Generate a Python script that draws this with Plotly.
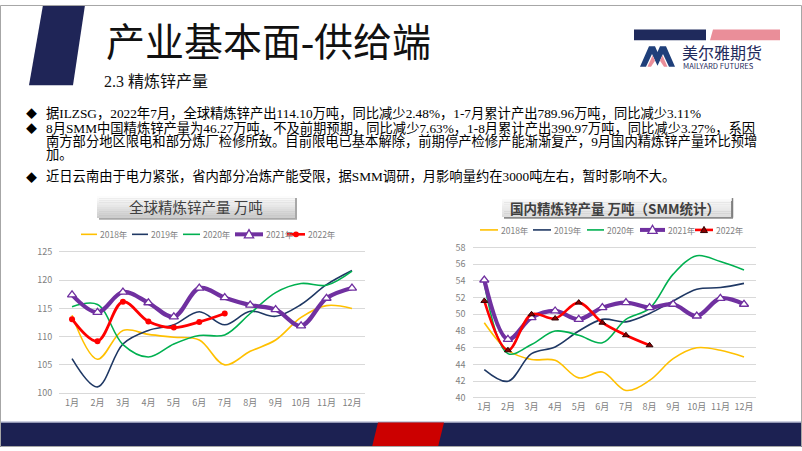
import plotly.graph_objects as go

W, H = 802, 451

# ---------------- data ----------------
months = ["1月", "2月", "3月", "4月", "5月", "6月", "7月", "8月", "9月", "10月", "11月", "12月"]
years = ["2018年", "2019年", "2020年", "2021年", "2022年"]

# 全球精炼锌产量 万吨
global_2018 = [113.8, 106.0, 111.1, 110.4, 109.9, 109.4, 105.0, 107.4, 109.4, 113.4, 115.5, 115.0]
global_2019 = [106.1, 101.1, 108.7, 111.1, 112.1, 114.4, 112.1, 114.5, 113.6, 115.7, 119.2, 121.7]
global_2020 = [115.3, 115.7, 108.6, 106.4, 108.7, 110.2, 110.3, 114.1, 117.8, 119.4, 119.1, 121.6]
global_2021 = [117.4, 114.3, 117.9, 116.0, 113.5, 118.6, 116.9, 115.6, 114.8, 111.9, 116.8, 118.6]
global_2022 = [113.1, 109.2, 116.2, 112.7, 111.6, 112.6, 114.1]

# 国内精炼锌产量 万吨（SMM统计）
domestic_2018 = [49.0, 45.7, 44.6, 44.5, 42.4, 43.1, 40.9, 42.1, 44.7, 46.0, 45.7, 44.9]
domestic_2019 = [43.4, 42.0, 45.3, 46.1, 48.0, 49.4, 49.1, 50.1, 51.6, 53.0, 53.2, 53.7]
domestic_2020 = [53.7, 45.3, 46.4, 48.0, 47.5, 46.6, 49.4, 50.7, 54.8, 57.0, 56.3, 55.3]
domestic_2021 = [54.1, 47.0, 49.6, 50.4, 49.4, 50.8, 51.4, 50.8, 51.2, 49.8, 51.9, 51.2]
domestic_2022 = [51.6, 45.7, 50.0, 49.5, 51.4, 49.0, 47.5, 46.3]

bullet_lines = [
    "据ILZSG，2022年7月，全球精炼锌产出114.10万吨，同比减少2.48%，1-7月累计产出789.96万吨，同比减少3.11%",
    "8月SMM中国精炼锌产量为46.27万吨，不及前期预期，同比减少7.63%，1-8月累计产出390.97万吨，同比减少3.27%，系因",
    "南方部分地区限电和部分炼厂检修所致。目前限电已基本解除，前期停产检修产能渐渐复产，9月国内精炼锌产量环比预增",
    "加。",
    "近日云南由于电力紧张，省内部分冶炼产能受限，据SMM调研，月影响量约在3000吨左右，暂时影响不大。",
]

# ---------------- styles ----------------
FONT = "Noto Sans CJK SC"
SERIF = "Liberation Serif, Noto Sans CJK SC"
C18, C19, C20, C21, C22 = "#FFC000", "#1F3864", "#00B050", "#7030A0", "#FF0000"
NAVY = "#1C2152"


def px(x):
    return x / W


def py(y):
    return 1 - y / H


def path(points):
    return "M " + " L ".join(f"{px(x):.5f},{py(y):.5f}" for x, y in points) + " Z"


fig = go.Figure()

styles = {
    "2018年": dict(line=dict(color=C18, width=1.6, shape="spline"), mode="lines"),
    "2019年": dict(line=dict(color=C19, width=1.6, shape="spline"), mode="lines"),
    "2020年": dict(line=dict(color=C20, width=1.6, shape="spline"), mode="lines"),
    "2021年": dict(line=dict(color=C21, width=4.2, shape="spline"), mode="lines+markers",
                  marker=dict(symbol="triangle-up", size=8, color="white",
                              line=dict(color=C21, width=1.3))),
}

left_series = [global_2018, global_2019, global_2020, global_2021, global_2022]
right_series = [domestic_2018, domestic_2019, domestic_2020, domestic_2021, domestic_2022]

for name, vals in zip(years, left_series):
    st = styles.get(name, dict(line=dict(color=C22, width=2.8, shape="spline"), mode="lines+markers",
                               marker=dict(symbol="circle", size=6, color=C22)))
    fig.add_trace(go.Scatter(x=months[:len(vals)], y=vals, name=name, xaxis="x", yaxis="y",
                             showlegend=False, **st))

for name, vals in zip(years, right_series):
    st = styles.get(name, dict(line=dict(color=C22, width=2.6, shape="spline"), mode="lines+markers",
                               marker=dict(symbol="triangle-up", size=6, color="#8B0000",
                                           line=dict(color="#300000", width=1))))
    fig.add_trace(go.Scatter(x=months[:len(vals)], y=vals, name=name, xaxis="x2", yaxis="y2",
                             showlegend=False, **st))

tickfont = dict(family=FONT, size=9, color="#7F7F7F")

fig.update_layout(
    width=W, height=H, autosize=False,
    margin=dict(l=0, r=0, t=0, b=0),
    paper_bgcolor="white", plot_bgcolor="white",
    showlegend=False,
    xaxis=dict(domain=[px(59.3), px(364.7)], type="category", range=[-0.5, 11.5],
               showgrid=False, zeroline=False, showline=False, ticks="",
               tickfont=tickfont, anchor="y", fixedrange=True),
    yaxis=dict(domain=[py(398.9), py(249.1)], range=[99.5, 125.5], dtick=5, tick0=100,
               showgrid=True, gridcolor="#D9D9D9", gridwidth=1, zeroline=False,
               showline=False, ticks="", tickfont=tickfont, anchor="x",
               ticklabelstandoff=6, fixedrange=True),
    xaxis2=dict(domain=[px(472.5), px(755.8)], type="category", range=[-0.5, 11.5],
                showgrid=False, zeroline=False, showline=False, ticks="",
                tickfont=tickfont, anchor="y2", fixedrange=True),
    yaxis2=dict(domain=[py(402.7), py(245.6)], range=[39.8, 58.2], dtick=2, tick0=40,
                showgrid=True, gridcolor="#D9D9D9", gridwidth=1, zeroline=False,
                showline=False, ticks="", tickfont=tickfont, anchor="x2",
                ticklabelstandoff=6, fixedrange=True),
)

shapes = []
annotations = []

# slide decorations
shapes.append(dict(type="path", xref="paper", yref="paper",
                   path=path([(43, 0), (85, 0), (73, 82), (29, 82)]),
                   fillcolor="#1F2557", line=dict(width=0)))
shapes.append(dict(type="rect", xref="paper", yref="paper",
                   x0=0, x1=1, y0=py(451), y1=py(426), fillcolor=NAVY, line=dict(width=0)))
shapes.append(dict(type="line", xref="paper", yref="paper",
                   x0=0, x1=1, y0=py(425.5), y1=py(425.5), line=dict(color="#9AA0C0", width=1)))
shapes.append(dict(type="path", xref="paper", yref="paper",
                   path=path([(378, 426), (444, 426), (438, 451), (372, 451)]),
                   fillcolor="#CC0000", line=dict(width=0)))

# logo
shapes.append(dict(type="rect", xref="paper", yref="paper",
                   x0=px(634), x1=px(706), y0=py(36), y1=py(25), fillcolor="#1F2A5C", line=dict(width=0)))
shapes.append(dict(type="path", xref="paper", yref="paper",
                   path=path([(713, 25), (780, 25), (780, 36), (710, 36)]),
                   fillcolor="#EA8E99", line=dict(width=0)))
shapes.append(dict(type="path", xref="paper", yref="paper",
                   path=path([(640, 63), (649, 42), (655, 42), (657.5, 48), (660, 42), (666, 42),
                              (675, 63), (669, 63), (663, 50), (657.5, 62), (652, 50), (646, 63)]),
                   fillcolor="#1F3F7A", line=dict(width=0)))
shapes.append(dict(type="path", xref="paper", yref="paper",
                   path=path([(647.5, 63), (652.5, 51.5), (655, 57), (651, 63)]),
                   fillcolor="#EA8E99", line=dict(width=0)))
shapes.append(dict(type="path", xref="paper", yref="paper",
                   path=path([(667.5, 63), (662.5, 51.5), (660, 57), (664, 63)]),
                   fillcolor="#EA8E99", line=dict(width=0)))
annotations.append(dict(text="美尔雅期货", x=px(680), y=py(47.5), xref="paper", yref="paper",
                        xanchor="left", yanchor="middle", showarrow=False,
                        font=dict(family=FONT, size=16, color="#1F2A5C")))
annotations.append(dict(text="MAILYARD FUTURES", x=px(680.5), y=py(62), xref="paper", yref="paper",
                        xanchor="left", yanchor="middle", showarrow=False,
                        font=dict(family=FONT, size=7.6, color="#1F2A5C")))

# titles
annotations.append(dict(text="产业基本面-供给端", x=px(104), y=py(38), xref="paper", yref="paper",
                        xanchor="left", yanchor="middle", showarrow=False,
                        font=dict(family=SERIF, size=39, color="#111111")))
annotations.append(dict(text="2.3 精炼锌产量", x=px(102), y=py(78), xref="paper", yref="paper",
                        xanchor="left", yanchor="middle", showarrow=False,
                        font=dict(family=SERIF, size=16, color="#111111")))

# bullets
line_y = [110, 125, 139, 153, 175]
bullet_y = [110, 125, 175]
for t, yy in zip(bullet_lines, line_y):
    annotations.append(dict(text=t, x=px(44), y=py(yy), xref="paper", yref="paper",
                            xanchor="left", yanchor="middle", showarrow=False,
                            font=dict(family=SERIF, size=13.3, color="#000000")))
for yy in bullet_y:
    annotations.append(dict(text="◆", x=px(31), y=py(yy), xref="paper", yref="paper",
                            xanchor="center", yanchor="middle", showarrow=False,
                            font=dict(family=FONT, size=11, color="#000000")))


# chart title boxes (simulated gradient)
def title_box(x0, x1, y0, y1, top, bottom, shadow, n=10):
    shapes.append(dict(type="rect", xref="paper", yref="paper",
                       x0=px(x0 + 2), x1=px(x1 + 2), y0=py(y1 + 2), y1=py(y0 + 2),
                       fillcolor=shadow, line=dict(width=0)))
    h = (y1 - y0) / n
    for i in range(n):
        f = i / (n - 1)
        c = tuple(int(top[k] + (bottom[k] - top[k]) * f) for k in range(3))
        shapes.append(dict(type="rect", xref="paper", yref="paper",
                           x0=px(x0), x1=px(x1), y0=py(y0 + (i + 1) * h + 0.3), y1=py(y0 + i * h),
                           fillcolor=f"rgb{c}", line=dict(width=0)))


title_box(97, 295, 195, 217, (252, 252, 252), (205, 205, 205), "#A8A8A8")
title_box(502, 731, 198, 216, (250, 250, 250), (222, 222, 222), "#8C8C8C")
shapes.append(dict(type="line", xref="paper", yref="paper", x0=px(732.5), x1=px(732.5),
                   y0=py(217), y1=py(197), line=dict(color="#7F7F7F", width=1.5)))
annotations.append(dict(text="全球精炼锌产量 万吨", x=px(196), y=py(206), xref="paper", yref="paper",
                        xanchor="center", yanchor="middle", showarrow=False,
                        font=dict(family=FONT, size=14.5, color="#404040")))
annotations.append(dict(text="<b>国内精炼锌产量 万吨（SMM统计）</b>", x=px(615), y=py(207),
                        xref="paper", yref="paper", xanchor="center", yanchor="middle",
                        showarrow=False, font=dict(family=FONT, size=13.5, color="#404040")))


# manual legends
def tri(cx, cy, s):
    return path([(cx, cy - s * 0.6), (cx + s * 0.58, cy + s * 0.45), (cx - s * 0.58, cy + s * 0.45)])


def legend(y, items):
    for (name, color, width, x0, x1, tx, mk) in items:
        shapes.append(dict(type="line", xref="paper", yref="paper", x0=px(x0), x1=px(x1),
                           y0=py(y), y1=py(y), line=dict(color=color, width=width)))
        cx = (x0 + x1) / 2
        if mk == "tri_open":
            shapes.append(dict(type="path", xref="paper", yref="paper", path=tri(cx, y, 8),
                               fillcolor="white", line=dict(color=C21, width=1.3)))
        elif mk == "dot":
            shapes.append(dict(type="circle", xref="paper", yref="paper",
                               x0=px(cx - 3), x1=px(cx + 3), y0=py(y + 3), y1=py(y - 3),
                               fillcolor=C22, line=dict(width=0)))
        elif mk == "tri_dark":
            shapes.append(dict(type="path", xref="paper", yref="paper", path=tri(cx, y, 6),
                               fillcolor="#8B0000", line=dict(color="#300000", width=1)))
        annotations.append(dict(text=name, x=px(tx), y=py(y), xref="paper", yref="paper",
                                xanchor="left", yanchor="middle", showarrow=False,
                                font=dict(family=FONT, size=8.5, color="#7F7F7F")))


legend(234, [
    (years[0], C18, 1.6, 81, 97, 98, None),
    (years[1], C19, 1.6, 132, 148, 149, None),
    (years[2], C20, 1.6, 183, 200, 201, None),
    (years[3], C21, 4, 235, 263, 264, "tri_open"),
    (years[4], C22, 2.6, 287, 305, 306, "dot"),
])
legend(229.5, [
    (years[0], C18, 1.6, 480, 498, 499, None),
    (years[1], C19, 1.6, 533, 551, 552, None),
    (years[2], C20, 1.6, 587, 604, 605, None),
    (years[3], C21, 4, 640, 665, 666, "tri_open"),
    (years[4], C22, 2.6, 695, 713, 714, "tri_dark"),
])

# slide border
shapes.append(dict(type="rect", xref="paper", yref="paper", x0=px(0.5), x1=px(801.5),
                   y0=py(450.5), y1=py(0.5), line=dict(color="#A6A6A6", width=1),
                   fillcolor="rgba(0,0,0,0)"))

fig.update_layout(shapes=shapes, annotations=annotations)

fig.write_html("out.html", config={"displayModeBar": False},
               post_script="document.body.style.margin='0';document.body.style.overflow='hidden';")
